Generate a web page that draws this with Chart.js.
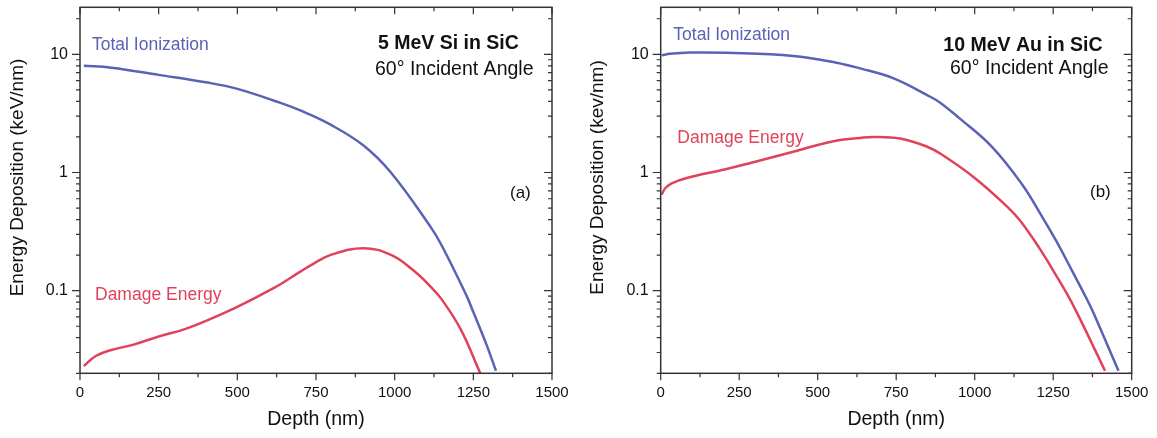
<!DOCTYPE html>
<html>
<head>
<meta charset="utf-8">
<script src="https://cdn.jsdelivr.net/npm/chart.js@4.4.1/dist/chart.umd.min.js"></script>
<style>
  html, body { margin: 0; padding: 0; background: #fff; }
  #wrap { position: relative; width: 1157px; height: 438px; }
  canvas { position: absolute; top: 0; }
  #chartA { left: 0; }
  #chartB { left: 578px; }
</style>
</head>
<body>
<div id="wrap">
  <canvas id="chartA" width="578" height="438"></canvas>
  <canvas id="chartB" width="579" height="438"></canvas>
</div>
<script>
// (a) 5 MeV Si in SiC
const depthIonA = [12, 100, 250, 400, 500, 635, 700, 795, 900, 988, 1113, 1150, 1229, 1250, 1290, 1322];
const ionA      = [8.0, 7.7, 6.7, 5.8, 5.1, 3.9, 3.35, 2.55, 1.7, 1.0, 0.35, 0.24, 0.09, 0.066, 0.036, 0.021];
const depthDmgA = [12, 50, 100, 170, 250, 340, 490, 615, 700, 740, 795, 900, 990, 1060, 1113, 1150, 1210, 1272];
const dmgA      = [0.023, 0.028, 0.0315, 0.035, 0.041, 0.048, 0.071, 0.105, 0.145, 0.168, 0.2, 0.229, 0.2, 0.148, 0.109, 0.084, 0.047, 0.020];

// (b) 10 MeV Au in SiC
const depthIonB = [3, 30, 93, 210, 422, 560, 635, 740, 850, 890, 950, 1055, 1150, 1213, 1261, 1293, 1357, 1378, 1458];
const ionB      = [9.8, 10.1, 10.35, 10.3, 9.7, 8.5, 7.6, 6.3, 4.5, 3.9, 2.9, 1.65, 0.8, 0.43, 0.26, 0.18, 0.085, 0.065, 0.021];
const depthDmgB = [3, 15, 35, 83, 210, 295, 422, 550, 635, 677, 762, 847, 895, 1000, 1105, 1145, 1208, 1250, 1298, 1335, 1415];
const dmgB      = [0.65, 0.74, 0.81, 0.9, 1.07, 1.22, 1.5, 1.84, 1.96, 2.0, 1.94, 1.66, 1.42, 0.9, 0.51, 0.39, 0.225, 0.148, 0.09, 0.058, 0.021];

// axes
const xTicks = [0, 250, 500, 750, 1000, 1250, 1500];
const yTicks = [0.02, 0.03, 0.04, 0.05, 0.06, 0.07, 0.08, 0.09, 0.1,
                0.2, 0.3, 0.4, 0.5, 0.6, 0.7, 0.8, 0.9, 1,
                2, 3, 4, 5, 6, 7, 8, 9, 10, 20];
const yLabels = [0.1, 1, 10];

const BLUE = '#5a62b4';
const RED = '#e0425a';
const FONT = "'Liberation Sans', Arial, sans-serif";

const toPoints = (xs, ys) => xs.map((x, i) => ({ x: x, y: ys[i] }));

// frame with mirrored ticks (outside on left/bottom, inside on top/right)
const frameTicks = {
  id: 'frameTicks',
  afterDraw(chart) {
    const { ctx, chartArea: a, scales: { x, y } } = chart;
    ctx.save();
    ctx.strokeStyle = '#333';
    ctx.lineWidth = 1.5;
    ctx.strokeRect(a.left, a.top, a.right - a.left, a.bottom - a.top);
    ctx.lineWidth = 1.2;
    ctx.beginPath();
    const xMinor = xTicks.slice(1).map((v, i) => (v + xTicks[i]) / 2);
    xTicks.concat(xMinor).forEach(v => {
      const px = x.getPixelForValue(v);
      const len = xTicks.includes(v) ? 7 : 4;
      ctx.moveTo(px, a.bottom); ctx.lineTo(px, a.bottom + len);
      ctx.moveTo(px, a.top); ctx.lineTo(px, a.top + len);
    });
    yTicks.forEach(v => {
      const py = y.getPixelForValue(v);
      const len = yLabels.includes(v) ? 8 : 4;
      ctx.moveTo(a.left, py); ctx.lineTo(a.left - len, py);
      ctx.moveTo(a.right, py); ctx.lineTo(a.right - len, py);
    });
    ctx.stroke();
    ctx.restore();
  }
};

// free text: in-plot labels and the rotated y-axis title
const notes = {
  id: 'notes',
  afterDraw(chart, args, opts) {
    const ctx = chart.ctx;
    (opts.items || []).forEach(n => {
      ctx.save();
      ctx.font = n.font;
      ctx.fillStyle = n.color;
      ctx.translate(n.x, n.y);
      if (n.rotate) {
        ctx.rotate(-Math.PI / 2);
        ctx.textAlign = 'center';
        ctx.textBaseline = 'middle';
      } else {
        ctx.textAlign = 'left';
        ctx.textBaseline = 'alphabetic';
      }
      ctx.fillText(n.text, 0, 0);
      ctx.restore();
    });
  }
};

function makeChart(id, ion, dmg, cfg) {
  return new Chart(document.getElementById(id), {
    type: 'line',
    data: {
      datasets: [
        { label: 'Total Ionization', data: ion, borderColor: BLUE },
        { label: 'Damage Energy', data: dmg, borderColor: RED }
      ]
    },
    options: {
      responsive: false,
      animation: false,
      clip: 0,
      elements: {
        point: { radius: 0 },
        line: { borderWidth: 2.5, tension: 0.4, fill: false }
      },
      layout: { padding: { top: 7.3, right: cfg.padRight, left: 0, bottom: 0 } },
      plugins: {
        legend: { display: false },
        tooltip: { enabled: false },
        notes: { items: cfg.notes }
      },
      scales: {
        x: {
          type: 'linear',
          min: 0, max: 1500,
          grid: { display: false, drawTicks: false },
          border: { display: false },
          afterBuildTicks: s => { s.ticks = xTicks.map(v => ({ value: v })); },
          afterFit: s => { s.height = 64.7; s.paddingLeft = 0; s.paddingRight = 0; },
          ticks: {
            autoSkip: false, maxRotation: 0, padding: 11,
            color: '#111', font: { family: FONT, size: 15 },
            callback: v => String(v)
          },
          title: {
            display: true, text: 'Depth (nm)', color: '#111',
            font: { family: FONT, size: 19.5 },
            padding: { top: 0, bottom: 6.3 }
          }
        },
        y: {
          type: 'logarithmic',
          min: 0.02, max: 25,
          grid: { display: false, drawTicks: false },
          border: { display: false },
          afterBuildTicks: s => { s.ticks = yTicks.map(v => ({ value: v })); },
          afterFit: s => { s.width = cfg.yWidth; s.paddingTop = 0; s.paddingBottom = 0; },
          ticks: {
            autoSkip: false, padding: 12,
            color: '#111', font: { family: FONT, size: 16 },
            callback: v => (yLabels.includes(v) ? String(v) : '')
          },
          title: { display: false }
        }
      }
    },
    plugins: [frameTicks, notes]
  });
}

makeChart('chartA', toPoints(depthIonA, ionA), toPoints(depthDmgA, dmgA), {
  padRight: 26, yWidth: 80,
  notes: [
    { text: 'Energy Deposition (keV/nm)', x: 17.5, y: 177.5, rotate: true, color: '#111', font: `19px ${FONT}` },
    { text: 'Total Ionization', x: 92, y: 50, color: BLUE, font: `17.5px ${FONT}` },
    { text: 'Damage Energy', x: 95, y: 300, color: RED, font: `17.5px ${FONT}` },
    { text: '5 MeV Si in SiC', x: 378, y: 48.5, color: '#111', font: `bold 19.5px ${FONT}` },
    { text: '60° Incident Angle', x: 375, y: 74.5, color: '#111', font: `19.5px ${FONT}` },
    { text: '(a)', x: 510, y: 198, color: '#111', font: `17px ${FONT}` }
  ]
});

makeChart('chartB', toPoints(depthIonB, ionB), toPoints(depthDmgB, dmgB), {
  padRight: 25.3, yWidth: 82.7,
  notes: [
    { text: 'Energy Deposition (kev/nm)', x: 19.5, y: 177.5, rotate: true, color: '#111', font: `19px ${FONT}` },
    { text: 'Total Ionization', x: 95.3, y: 40, color: BLUE, font: `17.5px ${FONT}` },
    { text: 'Damage Energy', x: 99.3, y: 142.7, color: RED, font: `17.5px ${FONT}` },
    { text: '10 MeV Au in SiC', x: 365.3, y: 50.7, color: '#111', font: `bold 19.5px ${FONT}` },
    { text: '60° Incident Angle', x: 372, y: 73.5, color: '#111', font: `19.5px ${FONT}` },
    { text: '(b)', x: 512, y: 197, color: '#111', font: `17px ${FONT}` }
  ]
});
</script>
</body>
</html>
